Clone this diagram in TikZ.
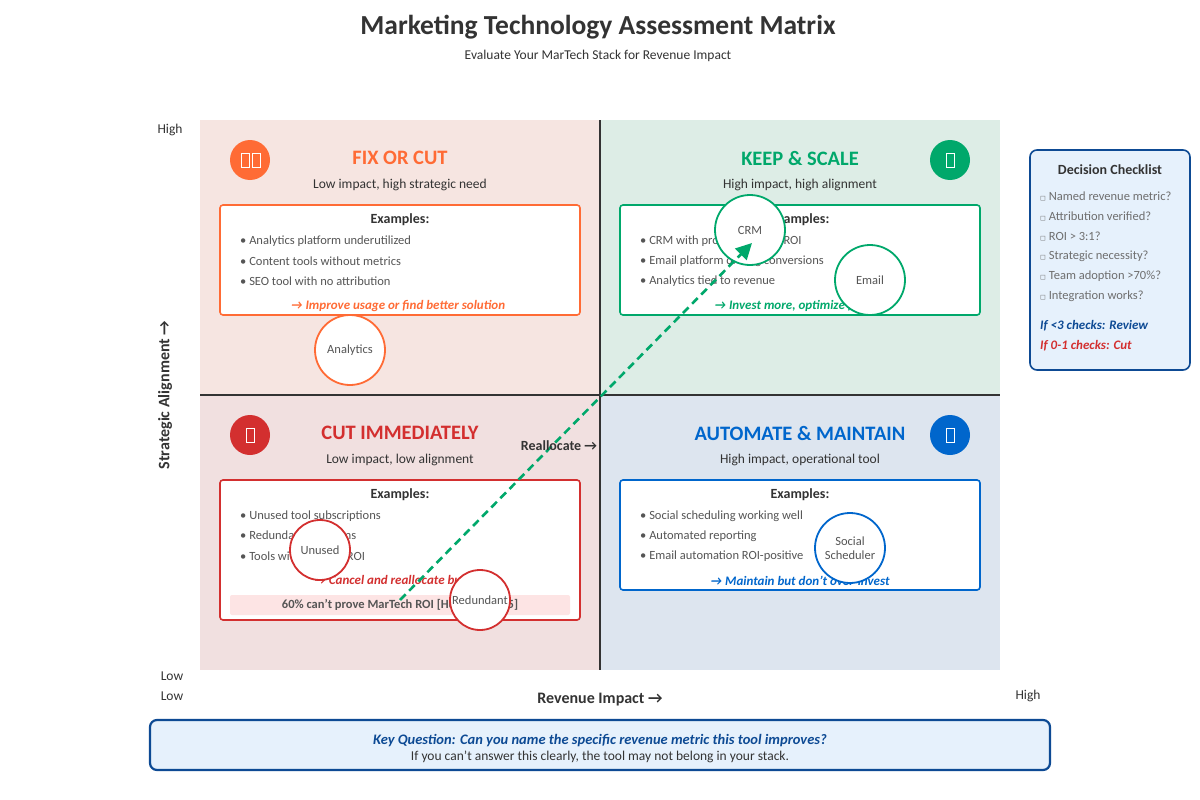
\documentclass[tikz,border=0pt]{standalone}
\usepackage{fontspec}
\setmainfont{Carlito}
\newfontfamily\djv{DejaVu Sans}
\usetikzlibrary{arrows.meta}
\definecolor{ttl}{HTML}{333333}
\definecolor{gtx}{HTML}{555555}
\definecolor{corg}{HTML}{FF6B35}
\definecolor{cgrn}{HTML}{00A86B}
\definecolor{cred}{HTML}{D32F2F}
\definecolor{cblu}{HTML}{0066CC}
\definecolor{navy}{HTML}{0D4A94}
\definecolor{lblue}{HTML}{E6F1FC}
\definecolor{qtl}{HTML}{F6E5E1}
\definecolor{qtr}{HTML}{DDEDE6}
\definecolor{qbl}{HTML}{F1E0E0}
\definecolor{qbr}{HTML}{DDE5EF}
\definecolor{band}{HTML}{FDE4E4}
\newcommand{\cbx}{{\djv\fontsize{7}{9}\selectfont ◻}}
\begin{document}
\begin{tikzpicture}[x=1pt,y=-1pt,
  txt/.style={inner sep=0pt,text=ttl,font=\fontsize{13.5}{16}\selectfont},
  qtitle/.style={inner sep=0pt,font=\fontsize{20.5}{23}\selectfont\bfseries},
  bul/.style={inner sep=0pt,anchor=west,text=gtx,font=\fontsize{12.5}{14}\selectfont},
  act/.style={inner sep=0pt,font=\fontsize{13}{15}\selectfont\bfseries\itshape},
  exh/.style={inner sep=0pt,text=ttl,font=\fontsize{14}{16}\selectfont\bfseries},
  exbox/.style={draw,line width=1.6pt,fill=white,rounded corners=3pt},
  icon/.style={circle,minimum size=40pt,inner sep=0pt},
  tool/.style={circle,draw,line width=1.8pt,fill=white,inner sep=0pt,text=gtx,font=\fontsize{12.5}{14}\selectfont,align=center},
  chk/.style={inner sep=0pt,anchor=west,text=gtx!85,font=\fontsize{12.5}{14}\selectfont},
  tofu/.style={draw=white,line width=0.8pt}]
\useasboundingbox (0,0) rectangle (1200,800);
\fill[white] (0,0) rectangle (1200,800);
\node[txt,font=\fontsize{27.5}{30}\selectfont\bfseries] (title) at (598,27) {Marketing Technology Assessment Matrix};
\node[txt] (sub) at (598,56) {Evaluate Your MarTech Stack for Revenue Impact};
% quadrants
\fill[qtl] (200,120) rectangle (600,395);
\fill[qtr] (600,120) rectangle (1000,395);
\fill[qbl] (200,395) rectangle (600,670);
\fill[qbr] (600,395) rectangle (1000,670);
\draw[ttl,line width=1.5pt] (600,120) -- (600,670);
\draw[ttl,line width=1.5pt] (200,395) -- (1000,395);
% icons
\node[icon,fill=corg] (i1) at (250,160) {};
\draw[tofu] (241,153) rectangle (249,167) (252,153) rectangle (260,167);
\node[icon,fill=cgrn] (i2) at (950,160) {};
\draw[tofu] (946,153) rectangle (954,167);
\node[icon,fill=cred] (i3) at (250,435) {};
\draw[tofu] (246,428) rectangle (254,442);
\node[icon,fill=cblu] (i4) at (950,435) {};
\draw[tofu] (946,428) rectangle (954,442);
% titles
\node[qtitle,text=corg] (t1) at (400,158) {FIX OR CUT};
\node[txt] (s1) at (400,185) {Low impact, high strategic need};
\node[qtitle,text=cgrn] (t2) at (800,158) {KEEP \& SCALE};
\node[txt] (s2) at (800,185) {High impact, high alignment};
\node[qtitle,text=cred] (t3) at (400,433) {CUT IMMEDIATELY};
\node[txt] (s3) at (400,460) {Low impact, low alignment};
\node[qtitle,text=cblu] (t4) at (800,433) {AUTOMATE \& MAINTAIN};
\node[txt] (s4) at (800,460) {High impact, operational tool};
% example boxes
\draw[exbox,draw=corg] (220,205) rectangle (580,315);
\node[exh] (e1) at (400,220) {Examples:};
\node[bul] (b11) at (240,241) {• Analytics platform underutilized};
\node[bul] (b12) at (240,261) {• Content tools without metrics};
\node[bul] (b13) at (240,281) {• SEO tool with no attribution};
\node[act,text=corg] (a1) at (398,306) {→ Improve usage or find better solution};
\draw[exbox,draw=cgrn] (620,205) rectangle (980,315);
\node[exh] (e2) at (800,220) {Examples:};
\node[bul] (b21) at (640,241) {• CRM with proven pipeline ROI};
\node[bul] (b22) at (640,261) {• Email platform driving conversions};
\node[bul] (b23) at (640,281) {• Analytics tied to revenue};
\node[act,text=cgrn] (a2) at (800,306) {→ Invest more, optimize further};
\draw[exbox,draw=cred] (220,480) rectangle (580,620);
\node[exh] (e3) at (400,495) {Examples:};
\node[bul] (b31) at (240,516) {• Unused tool subscriptions};
\node[bul] (b32) at (240,536) {• Redundant platforms};
\node[bul] (b33) at (240,556) {• Tools with no clear ROI};
\node[act,text=cred] (a3) at (400,581) {→ Cancel and reallocate budget};
\fill[band,rounded corners=2pt] (230,595) rectangle (570,615);
\node[txt,text=gtx,font=\fontsize{12.5}{14}\selectfont\bfseries] (st) at (400,605) {60\% can't prove MarTech ROI [HubSpot 2025]};
\draw[exbox,draw=cblu] (620,480) rectangle (980,590);
\node[exh] (e4) at (800,495) {Examples:};
\node[bul] (b41) at (640,516) {• Social scheduling working well};
\node[bul] (b42) at (640,536) {• Automated reporting};
\node[bul] (b43) at (640,556) {• Email automation ROI-positive};
\node[act,text=cblu] (a4) at (800,581) {→ Maintain but don't over-invest};
% tools
\node[tool,draw=corg,minimum size=70pt] (an) at (350,350) {Analytics};
\node[tool,draw=cgrn,minimum size=70pt] (crm) at (750,230) {CRM};
\node[tool,draw=cgrn,minimum size=70pt] (em) at (870,280) {Email};
\node[tool,draw=cred,minimum size=60pt] (un) at (320,550) {Unused};
\node[tool,draw=cred,minimum size=60pt] (re) at (480,600) {Redundant};
\node[tool,draw=cblu,minimum size=70pt] (so) at (850,548) {Social\\Scheduler};
\coordinate (as) at (400,600);
\draw[cgrn,line width=2.6pt,dash pattern=on 8pt off 5pt,-{Triangle[length=16pt,width=16pt]}] (as) -- (752,243);
\node[txt,font=\fontsize{14}{16}\selectfont\bfseries] (realloc) at (559,446) {Reallocate →};
% axes labels
\node[txt] (hy) at (170,130) {High};
\node[txt] (ly) at (172,676) {Low};
\node[txt] (lx) at (172,696) {Low};
\node[txt] (hx) at (1028,696) {High};
\node[txt,font=\fontsize{16}{18}\selectfont\bfseries] (xl) at (600,700) {Revenue Impact →};
\node[txt,font=\fontsize{16}{18}\selectfont\bfseries,rotate=90] (yl) at (165,395) {Strategic Alignment →};
% checklist
\draw[navy,fill=lblue,line width=1.6pt,rounded corners=7pt] (1030,150) rectangle (1190,370);
\node[txt,font=\fontsize{14}{16}\selectfont\bfseries] (ct) at (1110,170) {Decision Checklist};
\node[chk] (c1) at (1040,196) {\cbx\ Named revenue metric?};
\node[chk] (c2) at (1040,216) {\cbx\ Attribution verified?};
\node[chk] (c3) at (1040,236) {\cbx\ ROI > 3:1?};
\node[chk] (c4) at (1040,256) {\cbx\ Strategic necessity?};
\node[chk] (c5) at (1040,276) {\cbx\ Team adoption >70\%?};
\node[chk] (c6) at (1040,296) {\cbx\ Integration works?};
\node[act,anchor=west,text=navy] (r1) at (1040,326) {If <3 checks: Review};
\node[act,anchor=west,text=cred] (r2) at (1040,346) {If 0-1 checks: Cut};
% bottom box
\draw[navy,fill=lblue,line width=2.2pt,rounded corners=7pt] (150,720) rectangle (1050,770);
\node[act,text=navy,font=\fontsize{14.5}{16}\selectfont\bfseries\itshape] (kq) at (600,741) {Key Question: Can you name the specific revenue metric this tool improves?};
\node[txt] (kq2) at (600,757) {If you can't answer this clearly, the tool may not belong in your stack.};
\end{tikzpicture}
\end{document}
